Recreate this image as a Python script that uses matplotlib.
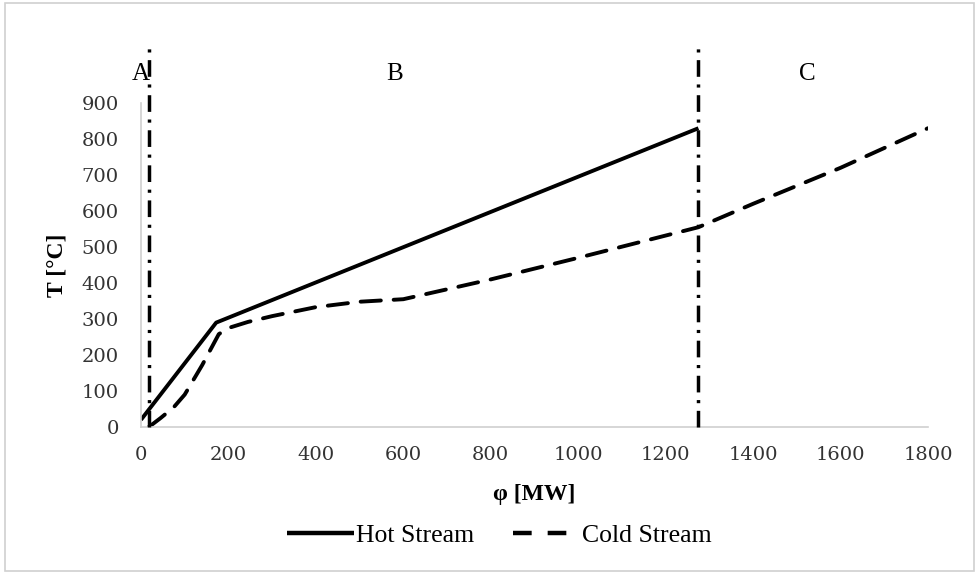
import numpy as np
import matplotlib
matplotlib.use('Agg')
import matplotlib.pyplot as plt
from matplotlib.patches import Rectangle
from matplotlib.lines import Line2D

# values
hot_x = [0, 172, 1275]
hot_y = [20, 290, 830]

cold_x = [18, 45, 75, 100, 140, 178, 200, 245, 300, 400, 500, 600, 800, 1000, 1275, 1400, 1600, 1800]
cold_y = [0, 25, 55, 90, 172, 258, 275, 292, 308, 333, 348, 355, 410, 470, 555, 620, 720, 830]

zone_bounds = [18, 1275]
zone_names = ['A', 'B', 'C']
zone_label_x = [0, 580, 1525]

x_ticks = list(range(0, 1801, 200))
y_ticks = list(range(0, 901, 100))

serif = 'Liberation Serif'

fig = plt.figure(figsize=(9.77, 5.73), dpi=100)
ax = fig.add_axes([0.1443, 0.2548, 0.9498 - 0.1443, 0.8202 - 0.2548])

ax.plot(hot_x, hot_y, color='black', lw=2.8, solid_capstyle='butt')
ax.plot(cold_x, cold_y, color='black', lw=2.8, dashes=(5.2, 3.3), dash_capstyle='round')

for xb in zone_bounds:
    ax.plot([xb, xb], [0, 1060], color='black', lw=2.5, dashes=(4.8, 2.2, 0.9, 2.2),
            clip_on=False, zorder=3)

for name, xl in zip(zone_names, zone_label_x):
    ax.text(xl, 982, name, fontsize=18, family=serif, ha='center', va='center')

ax.set_xlim(0, 1800)
ax.set_ylim(0, 900)
ax.set_xticks(x_ticks)
ax.set_yticks(y_ticks)
ax.tick_params(length=0, labelcolor='#333333')
ax.tick_params(axis='x', pad=14)
ax.tick_params(axis='y', pad=16)
for lab in ax.get_xticklabels() + ax.get_yticklabels():
    lab.set_family('DejaVu Serif')
    lab.set_fontsize(14)

for s in ['top', 'right']:
    ax.spines[s].set_visible(False)
for s in ['left', 'bottom']:
    ax.spines[s].set_color('#d0d0d0')
    ax.spines[s].set_linewidth(1.2)

ax.set_xlabel('φ [MW]', fontsize=17, fontweight='bold', family=serif, labelpad=14)
ax.set_ylabel('T [°C]', fontsize=17, fontweight='bold', family=serif, labelpad=10)

# legend proxies so the dashed handle shows two dashes like the original
hot_h = Line2D([], [], color='black', lw=3.2, solid_capstyle='butt')
cold_h = Line2D([], [], color='black', lw=3.2, dashes=(4.2, 3.6), dash_capstyle='butt')
fig.legend([hot_h, cold_h], ['Hot Stream', 'Cold Stream'], loc='center',
           bbox_to_anchor=(0.511, 0.066), ncol=2, frameon=False,
           prop={'family': serif, 'size': 18.5}, handlelength=2.6,
           handletextpad=0.1, columnspacing=1.5)

fig.patches.append(Rectangle((0.005, 0.004), 0.992, 0.99, transform=fig.transFigure,
                             fill=False, edgecolor='#d0d0d0', lw=1.2))

fig.savefig('out.png', dpi=100)
